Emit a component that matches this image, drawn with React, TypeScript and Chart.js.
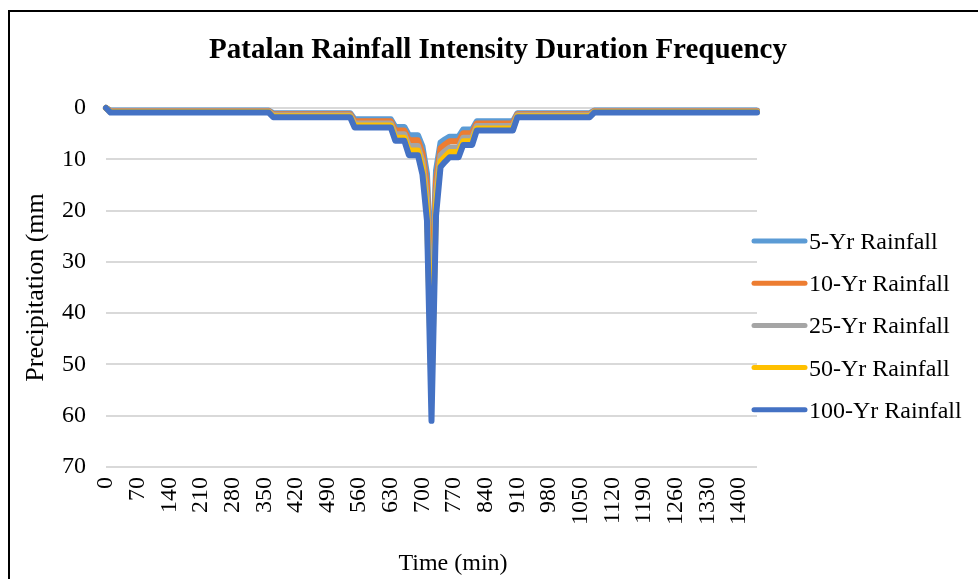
import React, { useEffect, useRef } from "react";
import { Chart, registerables } from "chart.js";

Chart.register(...registerables);

const TITLE = "Patalan Rainfall Intensity Duration Frequency";
const X_TITLE = "Time (min)";
const Y_TITLE = "Precipitation (mm";

const timeLabels = [
  0, 10, 20, 30, 40, 50, 60, 70, 80, 90, 100, 110, 120, 130, 140, 150, 160, 170, 180, 190,
  200, 210, 220, 230, 240, 250, 260, 270, 280, 290, 300, 310, 320, 330, 340, 350, 360, 370, 380, 390,
  400, 410, 420, 430, 440, 450, 460, 470, 480, 490, 500, 510, 520, 530, 540, 550, 560, 570, 580, 590,
  600, 610, 620, 630, 640, 650, 660, 670, 680, 690, 700, 710, 720, 730, 740, 750, 760, 770, 780, 790,
  800, 810, 820, 830, 840, 850, 860, 870, 880, 890, 900, 910, 920, 930, 940, 950, 960, 970, 980, 990,
  1000, 1010, 1020, 1030, 1040, 1050, 1060, 1070, 1080, 1090, 1100, 1110, 1120, 1130, 1140, 1150, 1160, 1170, 1180, 1190,
  1200, 1210, 1220, 1230, 1240, 1250, 1260, 1270, 1280, 1290, 1300, 1310, 1320, 1330, 1340, 1350, 1360, 1370, 1380, 1390,
  1400, 1410, 1420, 1430, 1440,
];

const seriesNames = ["5-Yr Rainfall", "10-Yr Rainfall", "25-Yr Rainfall", "50-Yr Rainfall", "100-Yr Rainfall"];
const seriesColors = ["#5B9BD5", "#ED7D31", "#A5A5A5", "#FFC000", "#4472C4"];

const rain5 = [
  0,
  0.5, 0.5, 0.5, 0.5, 0.5, 0.5, 0.5, 0.5, 0.5, 0.5, 0.5, 0.5,
  0.5, 0.5, 0.5, 0.5, 0.5, 0.5, 0.5, 0.5, 0.5, 0.5, 0.5, 0.5,
  0.5, 0.5, 0.5, 0.5, 0.5, 0.5, 0.5, 0.5, 0.5, 0.5, 0.5, 0.5,
  1.0, 1.0, 1.0, 1.0, 1.0, 1.0, 1.0, 1.0, 1.0, 1.0, 1.0, 1.0,
  1.0, 1.0, 1.0, 1.0, 1.0, 1.0,
  2.2, 2.2, 2.2, 2.2, 2.2, 2.2, 2.2, 2.2, 2.2,
  3.7, 3.7, 3.7,
  5.3, 5.3, 5.3,
  7.5, 12.8, 35.4, 12.2, 6.7, 6.1,
  5.6, 5.6, 5.6,
  4.2, 4.2, 4.2,
  2.6, 2.6, 2.6, 2.6, 2.6, 2.6, 2.6, 2.6, 2.6,
  1.0, 1.0, 1.0, 1.0, 1.0, 1.0, 1.0, 1.0, 1.0, 1.0, 1.0, 1.0,
  1.0, 1.0, 1.0, 1.0, 1.0,
  0.5, 0.5, 0.5, 0.5, 0.5, 0.5, 0.5, 0.5, 0.5, 0.5, 0.5, 0.5,
  0.5, 0.5, 0.5, 0.5, 0.5, 0.5, 0.5, 0.5, 0.5, 0.5, 0.5, 0.5,
  0.5, 0.5, 0.5, 0.5, 0.5, 0.5, 0.5, 0.5, 0.5, 0.5, 0.5, 0.5, 0.5,
];

const rain10 = [
  0,
  0.6, 0.6, 0.6, 0.6, 0.6, 0.6, 0.6, 0.6, 0.6, 0.6, 0.6, 0.6,
  0.6, 0.6, 0.6, 0.6, 0.6, 0.6, 0.6, 0.6, 0.6, 0.6, 0.6, 0.6,
  0.6, 0.6, 0.6, 0.6, 0.6, 0.6, 0.6, 0.6, 0.6, 0.6, 0.6, 0.6,
  1.2, 1.2, 1.2, 1.2, 1.2, 1.2, 1.2, 1.2, 1.2, 1.2, 1.2, 1.2,
  1.2, 1.2, 1.2, 1.2, 1.2, 1.2,
  2.6, 2.6, 2.6, 2.6, 2.6, 2.6, 2.6, 2.6, 2.6,
  4.4, 4.4, 4.4,
  6.3, 6.3, 6.3,
  8.8, 15.0, 41.5, 14.3, 7.8, 7.1,
  6.5, 6.5, 6.5,
  4.9, 4.9, 4.9,
  3.0, 3.0, 3.0, 3.0, 3.0, 3.0, 3.0, 3.0, 3.0,
  1.2, 1.2, 1.2, 1.2, 1.2, 1.2, 1.2, 1.2, 1.2, 1.2, 1.2, 1.2,
  1.2, 1.2, 1.2, 1.2, 1.2,
  0.6, 0.6, 0.6, 0.6, 0.6, 0.6, 0.6, 0.6, 0.6, 0.6, 0.6, 0.6,
  0.6, 0.6, 0.6, 0.6, 0.6, 0.6, 0.6, 0.6, 0.6, 0.6, 0.6, 0.6,
  0.6, 0.6, 0.6, 0.6, 0.6, 0.6, 0.6, 0.6, 0.6, 0.6, 0.6, 0.6, 0.6,
];

const rain25 = [
  0,
  0.7, 0.7, 0.7, 0.7, 0.7, 0.7, 0.7, 0.7, 0.7, 0.7, 0.7, 0.7,
  0.7, 0.7, 0.7, 0.7, 0.7, 0.7, 0.7, 0.7, 0.7, 0.7, 0.7, 0.7,
  0.7, 0.7, 0.7, 0.7, 0.7, 0.7, 0.7, 0.7, 0.7, 0.7, 0.7, 0.7,
  1.4, 1.4, 1.4, 1.4, 1.4, 1.4, 1.4, 1.4, 1.4, 1.4, 1.4, 1.4,
  1.4, 1.4, 1.4, 1.4, 1.4, 1.4,
  3.0, 3.0, 3.0, 3.0, 3.0, 3.0, 3.0, 3.0, 3.0,
  5.1, 5.1, 5.1,
  7.4, 7.4, 7.4,
  10.4, 17.6, 48.8, 16.8, 9.2, 8.4,
  7.7, 7.7, 7.7,
  5.8, 5.8, 5.8,
  3.5, 3.5, 3.5, 3.5, 3.5, 3.5, 3.5, 3.5, 3.5,
  1.4, 1.4, 1.4, 1.4, 1.4, 1.4, 1.4, 1.4, 1.4, 1.4, 1.4, 1.4,
  1.4, 1.4, 1.4, 1.4, 1.4,
  0.7, 0.7, 0.7, 0.7, 0.7, 0.7, 0.7, 0.7, 0.7, 0.7, 0.7, 0.7,
  0.7, 0.7, 0.7, 0.7, 0.7, 0.7, 0.7, 0.7, 0.7, 0.7, 0.7, 0.7,
  0.7, 0.7, 0.7, 0.7, 0.7, 0.7, 0.7, 0.7, 0.7, 0.7, 0.7, 0.7, 0.7,
];

const rain50 = [
  0,
  0.8, 0.8, 0.8, 0.8, 0.8, 0.8, 0.8, 0.8, 0.8, 0.8, 0.8, 0.8,
  0.8, 0.8, 0.8, 0.8, 0.8, 0.8, 0.8, 0.8, 0.8, 0.8, 0.8, 0.8,
  0.8, 0.8, 0.8, 0.8, 0.8, 0.8, 0.8, 0.8, 0.8, 0.8, 0.8, 0.8,
  1.6, 1.6, 1.6, 1.6, 1.6, 1.6, 1.6, 1.6, 1.6, 1.6, 1.6, 1.6,
  1.6, 1.6, 1.6, 1.6, 1.6, 1.6,
  3.4, 3.4, 3.4, 3.4, 3.4, 3.4, 3.4, 3.4, 3.4,
  5.8, 5.8, 5.8,
  8.3, 8.3, 8.3,
  11.7, 19.8, 54.9, 18.9, 10.4, 9.5,
  8.6, 8.6, 8.6,
  6.5, 6.5, 6.5,
  4.0, 4.0, 4.0, 4.0, 4.0, 4.0, 4.0, 4.0, 4.0,
  1.6, 1.6, 1.6, 1.6, 1.6, 1.6, 1.6, 1.6, 1.6, 1.6, 1.6, 1.6,
  1.6, 1.6, 1.6, 1.6, 1.6,
  0.8, 0.8, 0.8, 0.8, 0.8, 0.8, 0.8, 0.8, 0.8, 0.8, 0.8, 0.8,
  0.8, 0.8, 0.8, 0.8, 0.8, 0.8, 0.8, 0.8, 0.8, 0.8, 0.8, 0.8,
  0.8, 0.8, 0.8, 0.8, 0.8, 0.8, 0.8, 0.8, 0.8, 0.8, 0.8, 0.8, 0.8,
];

const rain100 = [
  0,
  0.9, 0.9, 0.9, 0.9, 0.9, 0.9, 0.9, 0.9, 0.9, 0.9, 0.9, 0.9,
  0.9, 0.9, 0.9, 0.9, 0.9, 0.9, 0.9, 0.9, 0.9, 0.9, 0.9, 0.9,
  0.9, 0.9, 0.9, 0.9, 0.9, 0.9, 0.9, 0.9, 0.9, 0.9, 0.9, 0.9,
  1.8, 1.8, 1.8, 1.8, 1.8, 1.8, 1.8, 1.8, 1.8, 1.8, 1.8, 1.8,
  1.8, 1.8, 1.8, 1.8, 1.8, 1.8,
  3.8, 3.8, 3.8, 3.8, 3.8, 3.8, 3.8, 3.8, 3.8,
  6.4, 6.4, 6.4,
  9.2, 9.2, 9.2,
  13, 22, 61, 21, 11.5, 10.5,
  9.6, 9.6, 9.6,
  7.2, 7.2, 7.2,
  4.4, 4.4, 4.4, 4.4, 4.4, 4.4, 4.4, 4.4, 4.4,
  1.8, 1.8, 1.8, 1.8, 1.8, 1.8, 1.8, 1.8, 1.8, 1.8, 1.8, 1.8,
  1.8, 1.8, 1.8, 1.8, 1.8,
  0.9, 0.9, 0.9, 0.9, 0.9, 0.9, 0.9, 0.9, 0.9, 0.9, 0.9, 0.9,
  0.9, 0.9, 0.9, 0.9, 0.9, 0.9, 0.9, 0.9, 0.9, 0.9, 0.9, 0.9,
  0.9, 0.9, 0.9, 0.9, 0.9, 0.9, 0.9, 0.9, 0.9, 0.9, 0.9, 0.9, 0.9,
];

const seriesValues = [rain5, rain10, rain25, rain50, rain100];
const yTicks = [0, 10, 20, 30, 40, 50, 60, 70];
const LABEL_EVERY = 7;

const FONT = '"Liberation Serif", "Times New Roman", serif';

const overlayPlugin = {
  id: "overlay",
  afterDraw(chart: any) {
    const ctx = chart.ctx;
    ctx.save();
    ctx.fillStyle = "#000";
    ctx.textBaseline = "alphabetic";
    ctx.textAlign = "center";
    ctx.font = `bold 29px ${FONT}`;
    ctx.fillText(TITLE, 498, 58);
    ctx.font = `24px ${FONT}`;
    ctx.fillText(X_TITLE, 453, 570);
    chart.data.datasets.forEach((ds: any, i: number) => {
      const y = 241 + i * 42.2;
      ctx.strokeStyle = ds.borderColor;
      ctx.lineWidth = 5;
      ctx.lineCap = "round";
      ctx.beginPath();
      ctx.moveTo(754, y);
      ctx.lineTo(805, y);
      ctx.stroke();
      ctx.textAlign = "left";
      ctx.fillStyle = "#000";
      ctx.fillText(ds.label, 809, y + 8);
    });
    ctx.restore();
  },
};

export default function App() {
  const ref = useRef<HTMLCanvasElement | null>(null);

  useEffect(() => {
    if (!ref.current) return;
    Chart.defaults.font.family = FONT;
    const chart = new Chart(ref.current, {
      type: "line",
      data: {
        labels: timeLabels.map(String),
        datasets: seriesNames.map((name, i) => ({
          label: name,
          data: seriesValues[i],
          borderColor: seriesColors[i],
          backgroundColor: seriesColors[i],
          borderWidth: 6,
          pointRadius: 0,
          pointHoverRadius: 0,
          tension: 0,
          borderJoinStyle: "round" as const,
          borderCapStyle: "round" as const,
          fill: false,
          clip: false as any,
          order: seriesNames.length - i,
        })),
      },
      options: {
        animation: false,
        responsive: false,
        events: [],
        layout: { padding: { left: 0, top: 108, right: 221, bottom: 0 } },
        plugins: {
          legend: { display: false },
          title: { display: false },
          tooltip: { enabled: false },
        },
        scales: {
          x: {
            type: "category",
            offset: false,
            grid: { display: false, drawTicks: false },
            border: { display: false },
            ticks: {
              autoSkip: false,
              minRotation: 90,
              maxRotation: 90,
              padding: 10,
              color: "#000",
              font: { size: 24, family: FONT },
              callback: (_v: any, idx: number) => (idx % LABEL_EVERY === 0 ? String(timeLabels[idx]) : ""),
            },
            afterFit: (s: any) => {
              s.height = 112;
            },
          },
          y: {
            reverse: true,
            min: 0,
            max: 70,
            afterBuildTicks: (s: any) => {
              s.ticks = yTicks.map((v) => ({ value: v }));
            },
            grid: { color: "#D9D9D9", lineWidth: 2, drawTicks: false },
            border: { display: false },
            ticks: {
              padding: 20,
              color: "#000",
              font: { size: 24, family: FONT },
            },
            title: {
              display: true,
              text: Y_TITLE,
              color: "#000",
              font: { size: 26, family: FONT },
              padding: { top: 21, bottom: 0 },
            },
            afterFit: (s: any) => {
              s.width = 106;
            },
          },
        },
      },
      plugins: [overlayPlugin],
    });
    return () => chart.destroy();
  }, []);

  return (
    <div style={{ position: "fixed", left: 0, top: 0, width: 978, height: 579, background: "#fff", overflow: "hidden" }}>
      <div
        style={{
          position: "absolute",
          left: 8,
          top: 10,
          width: 1100,
          height: 700,
          border: "2px solid #000",
          boxSizing: "border-box",
        }}
      />
      <canvas ref={ref} width={978} height={579} style={{ position: "absolute", left: 0, top: 0, display: "block" }} />
    </div>
  );
}
